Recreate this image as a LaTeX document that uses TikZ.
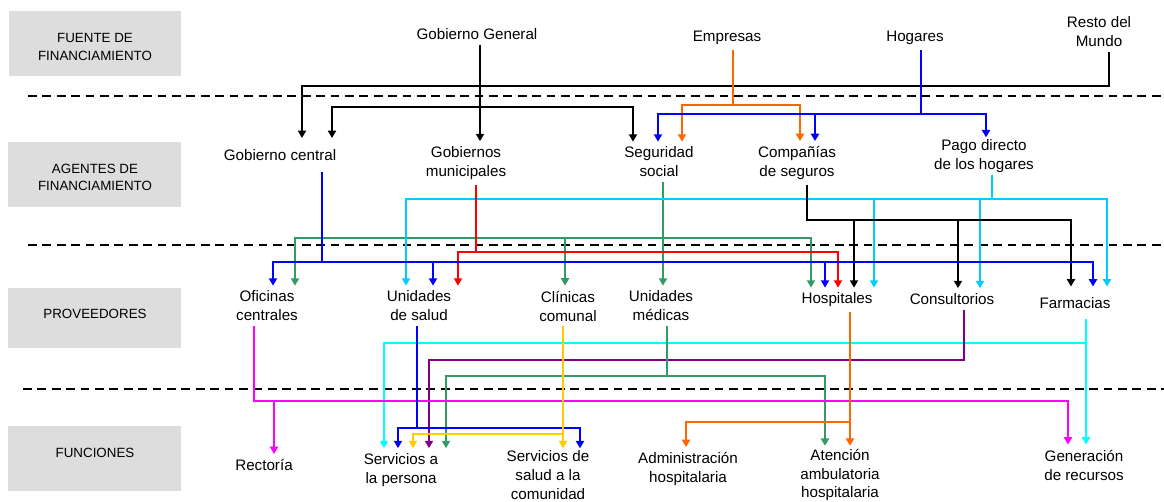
\documentclass[tikz,border=0pt]{standalone}
\usepackage{fontspec}
\setmainfont{Liberation Sans}
\usetikzlibrary{arrows.meta}
\definecolor{mBand}{RGB}{221,221,221}
\definecolor{mOrange}{RGB}{255,102,0}
\definecolor{mBlue}{RGB}{0,0,255}
\definecolor{mRed}{RGB}{255,0,0}
\definecolor{mGreen}{RGB}{51,153,102}
\definecolor{mSky}{RGB}{0,204,255}
\definecolor{mCyan}{RGB}{0,255,255}
\definecolor{mGold}{RGB}{255,204,0}
\definecolor{mPurple}{RGB}{128,0,128}
\definecolor{mMagenta}{RGB}{255,0,255}

\begin{document}
\begin{tikzpicture}[x=0.02cm, y=-0.02cm,
    bandlbl/.style={align=center, inner sep=0pt, font=\fontsize{7.6}{9.7}\selectfont},
    lbl/.style={align=center, inner xsep=1pt, inner ysep=2.8pt,
      font=\fontsize{8.65}{10.8}\selectfont},
    level/.style={line width=1.1pt, dash pattern=on 5pt off 3.2pt},
    flow/.style={line width=1.1pt, -{Triangle[length=4.2pt,width=4.6pt]}}]
    \useasboundingbox (0,0) rectangle (1164,502);

    % bands
    \fill[mBand] (9,11) rectangle (181,76);
    \fill[mBand] (8,142) rectangle (181,207);
    \fill[mBand] (8,288) rectangle (181,348);
    \fill[mBand] (8,426) rectangle (181,491);
    \node[bandlbl] (bf) at (95,47) {FUENTE DE\\FINANCIAMIENTO};
    \node[bandlbl] (ba) at (95,177) {AGENTES DE\\FINANCIAMIENTO};
    \node[bandlbl] (bp) at (95,314) {PROVEEDORES};
    \node[bandlbl] (bu) at (95,453) {FUNCIONES};
    \draw[level] (28,96) -- (1164,96);
    \draw[level] (28,245) -- (1164,245);
    \draw[level] (23,389) -- (1164,389);

    % fuentes
    \node[lbl] (gg) at (477,34) {Gobierno General};
    \node[lbl] (em) at (727,38) {Empresas};
    \node[lbl] (ho) at (915,38) {Hogares};
    \node[lbl] (rm) at (1099,32) {Resto del\\Mundo};

    % agentes
    \node[lbl, inner ysep=6.3pt] (gc) at (280,155) {Gobierno central};
    \node[lbl] (gm) at (466,163) {Gobiernos\\municipales};
    \node[lbl] (ss) at (659,162) {Seguridad\\social};
    \node[lbl] (cs) at (797,163) {Compañías\\de seguros};
    \node[lbl, inner ysep=1pt] (pd) at (984,156) {Pago directo\\de los hogares};

    % proveedores
    \node[lbl] (oc) at (267,306) {Oficinas\\centrales};
    \node[lbl] (us) at (419,306) {Unidades\\de salud};
    \node[lbl] (cc) at (568,306) {Clínicas\\comunal};
    \node[lbl] (um) at (661,306) {Unidades\\médicas};
    \node[lbl] (hp) at (837,300) {Hospitales};
    \node[lbl] (co) at (952,299) {Consultorios};
    \node[lbl, inner ysep=6pt] (fa) at (1075,303) {Farmacias};

    % funciones
    \node[lbl] (re) at (264,465) {Rectoría};
    \node[lbl] (sp) at (401,470) {Servicios a\\la persona};
    \node[lbl, inner ysep=1pt] (sc) at (548,475) {Servicios de\\salud a la\\comunidad};
    \node[lbl] (ah) at (688,469) {Administración\\hospitalaria};
    \node[lbl, inner ysep=1.5pt] (aa) at (840,475) {Atención\\ambulatoria\\hospitalaria};
    \node[lbl] (gr) at (1084,465) {Generación\\de recursos};

    % fuentes -> agentes
    \draw[flow] (1109,0 |- rm.south) |- (302,86) -- (302,0 |- gc.north);
    \draw[flow] (480,0 |- gg.south) -- (480,0 |- gm.north);
    \draw[flow] (480,0 |- gg.south) |- (332,107) -- (332,0 |- gc.north);
    \draw[flow] (480,0 |- gg.south) |- (633,107) -- (633,0 |- ss.north);
    \draw[flow, mOrange] (733,0 |- em.south) |- (682,105) -- (682,0 |- ss.north);
    \draw[flow, mOrange] (733,0 |- em.south) |- (800,105) -- (800,0 |- cs.north);
    \draw[flow, mBlue] (921,0 |- ho.south) |- (658,114) -- (658,0 |- ss.north);
    \draw[flow, mBlue] (921,0 |- ho.south) |- (815,114) -- (815,0 |- cs.north);
    \draw[flow, mBlue] (921,0 |- ho.south) |- (986,114) -- (986,0 |- pd.north);

    % agentes -> proveedores
    \draw[flow, mGreen] (663,0 |- ss.south) -- (663,0 |- um.north);
    \draw[flow, mGreen] (663,0 |- ss.south) |- (295,238) -- (295,0 |- oc.north);
    \draw[flow, mGreen] (663,0 |- ss.south) |- (565,238) -- (565,0 |- cc.north);
    \draw[flow, mGreen] (663,0 |- ss.south) |- (811,238) -- (811,0 |- hp.north);
    \draw[flow, mSky] (992,0 |- pd.south) |- (406,199) -- (406,0 |- us.north);
    \draw[flow, mSky] (992,0 |- pd.south) |- (874,199) -- (874,0 |- hp.north);
    \draw[flow, mSky] (992,0 |- pd.south) |- (980,199) -- (980,0 |- co.north);
    \draw[flow, mSky] (992,0 |- pd.south) |- (1107,199) -- (1107,0 |- fa.north);
    \draw[flow] (807,0 |- cs.south) |- (854,220) -- (854,0 |- hp.north);
    \draw[flow] (807,0 |- cs.south) |- (958,220) -- (958,0 |- co.north);
    \draw[flow] (807,0 |- cs.south) |- (1071,220) -- (1071,0 |- fa.north);
    \draw[flow, mRed] (476,0 |- gm.south) |- (458,252) -- (458,0 |- us.north);
    \draw[flow, mRed] (476,0 |- gm.south) |- (838,252) -- (838,0 |- hp.north);
    \draw[flow, mBlue] (322,0 |- gc.south) |- (273,262) -- (273,0 |- oc.north);
    \draw[flow, mBlue] (322,0 |- gc.south) |- (433,262) -- (433,0 |- us.north);
    \draw[flow, mBlue] (322,0 |- gc.south) |- (825,262) -- (825,0 |- hp.north);
    \draw[flow, mBlue] (322,0 |- gc.south) |- (1093,262) -- (1093,0 |- fa.north);

    % proveedores -> funciones
    \draw[flow, mCyan] (1086,0 |- fa.south) -- (1086,0 |- gr.north);
    \draw[flow, mCyan] (1086,0 |- fa.south) |- (384,343) -- (384,0 |- sp.north);
    \draw[flow, mPurple] (964,0 |- co.south) |- (429,360) -- (429,0 |- sp.north);
    \draw[flow, mGreen] (667,0 |- um.south) |- (446,376) -- (446,0 |- sp.north);
    \draw[flow, mGreen] (667,0 |- um.south) |- (825,376) -- (825,0 |- aa.north);
    \draw[flow, mMagenta] (254,0 |- oc.south) |- (274,401) -- (274,0 |- re.north);
    \draw[flow, mMagenta] (254,0 |- oc.south) |- (1068,401) -- (1068,0 |- gr.north);
    \draw[flow, mOrange] (850,0 |- hp.south) -- (850,0 |- aa.north);
    \draw[flow, mOrange] (850,0 |- hp.south) |- (686,422) -- (686,0 |- ah.north);
    \draw[flow, mBlue] (417,0 |- us.south) |- (398,428) -- (398,0 |- sp.north);
    \draw[flow, mBlue] (417,0 |- us.south) |- (580,428) -- (580,0 |- sc.north);
    \draw[flow, mGold] (563,0 |- cc.south) -- (563,0 |- sc.north);
    \draw[flow, mGold] (563,0 |- cc.south) |- (413,434) -- (413,0 |- sp.north);
\end{tikzpicture}
\end{document}
